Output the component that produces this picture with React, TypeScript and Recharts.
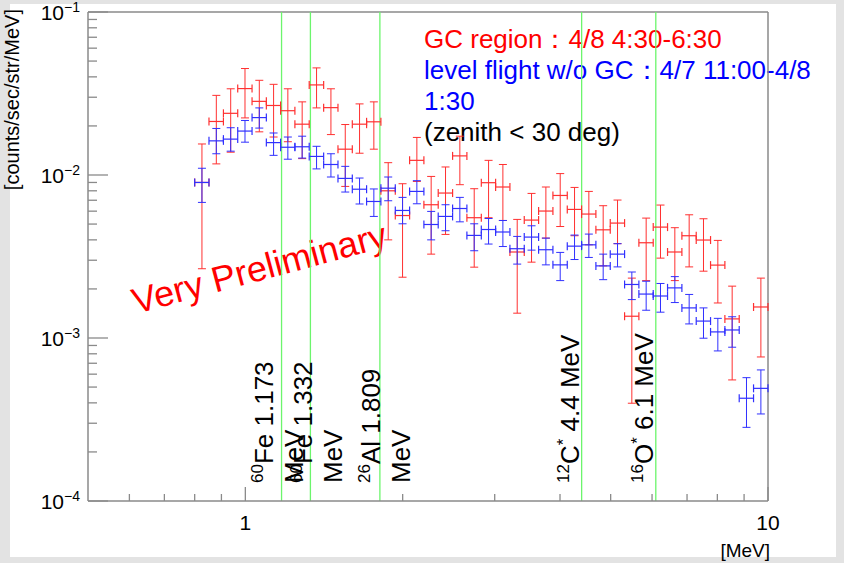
import React from "react";
import {
  ScatterChart,
  Scatter,
  XAxis,
  YAxis,
  ErrorBar,
  ReferenceLine,
} from "recharts";

// energy bin edges [MeV], 40 log bins
const BIN_EDGES = [
  0.8, 0.852, 0.908, 0.967, 1.03, 1.097, 1.168, 1.244, 1.325, 1.412, 1.504,
  1.602, 1.706, 1.817, 1.936, 2.062, 2.196, 2.339, 2.492, 2.654, 2.828, 3.012,
  3.208, 3.417, 3.64, 3.877, 4.13, 4.399, 4.685, 4.991, 5.316, 5.662, 6.031,
  6.424, 6.843, 7.289, 7.764, 8.27, 8.809, 9.383, 10,
];

// GC region (red)
const GC_RATE = [
  0.009, 0.0213, 0.0239, 0.0339, 0.0283, 0.0267, 0.0248, 0.0205, 0.0357,
  0.0259, 0.0144, 0.0205, 0.0212, 0.008, 0.00564, 0.0123, 0.00657, 0.00775,
  0.0131, 0.00547, 0.00897, 0.00844, 0.00337, 0.00529, 0.00601, 0.00749,
  0.00615, 0.00576, 0.00461, 0.00507, 0.00136, 0.00384, 0.00479, 0.00337,
  0.00424, 0.00399, 0.0028, 0.00131, null, 0.00155,
];
const GC_LOW = [
  0.00266, 0.0117, 0.0138, 0.0224, 0.0184, 0.0171, 0.016, 0.0126, 0.0258,
  0.0177, 0.00851, 0.0136, 0.0144, 0.004, 0.00236, 0.00913, 0.00327, 0.00432,
  0.00872, 0.00272, 0.00547, 0.00526, 0.00142, 0.00292, 0.0041, 0.00483,
  0.00424, 0.00373, 0.00277, 0.00379, 0.000398, 0.00225, 0.00309, 0.00225,
  0.00273, 0.00257, 0.00164, 0.000553, null, 0.000765,
];
const GC_HIGH = [
  0.0155, 0.0308, 0.0338, 0.045, 0.0381, 0.036, 0.0338, 0.0281, 0.0454,
  0.0338, 0.0204, 0.0273, 0.0281, 0.0119, 0.00884, 0.017, 0.0098, 0.0112,
  0.0173, 0.00824, 0.0123, 0.0116, 0.00534, 0.00771, 0.00844, 0.0102, 0.00839,
  0.00793, 0.00648, 0.00702, 0.00233, 0.00544, 0.00654, 0.00475, 0.0057,
  0.00539, 0.00397, 0.00208, null, 0.00233,
];

// level flight w/o GC (blue)
const BG_RATE = [
  0.009, 0.0162, 0.0166, 0.0186, 0.0225, 0.0158, 0.0148, 0.0149, 0.013,
  0.0116, 0.00953, 0.00818, 0.00688, 0.0083, 0.00606, 0.00793, 0.00497,
  0.00557, 0.00623, 0.00426, 0.00463, 0.00447, 0.00353, 0.00416, 0.00348,
  0.00281, 0.00366, 0.00373, 0.00277, 0.00327, 0.00213, 0.00186, 0.00181,
  0.00203, 0.00153, 0.00127, 0.00109, 0.00112, 0.000427, 0.000491,
];
const BG_LOW = [
  0.00679, 0.0135, 0.014, 0.0159, 0.0194, 0.0132, 0.0125, 0.0127, 0.0109,
  0.00972, 0.00786, 0.00664, 0.00557, 0.00695, 0.00502, 0.00666, 0.004,
  0.00455, 0.00516, 0.00343, 0.00377, 0.00364, 0.00284, 0.00346, 0.00281,
  0.00225, 0.00303, 0.00312, 0.00228, 0.00273, 0.00172, 0.00148, 0.00144,
  0.00165, 0.00122, 0.000997, 0.000833, 0.000878, 0.000283, 0.000342,
];
const BG_HIGH = [
  0.011, 0.0193, 0.0195, 0.0216, 0.0258, 0.0181, 0.0171, 0.0173, 0.015,
  0.0135, 0.0113, 0.00958, 0.00821, 0.00972, 0.00729, 0.00923, 0.00598,
  0.00657, 0.00729, 0.00502, 0.00541, 0.00526, 0.0042, 0.00488, 0.0041,
  0.00335, 0.00428, 0.00434, 0.00327, 0.00379, 0.00254, 0.00223, 0.00216,
  0.00238, 0.00185, 0.00153, 0.00132, 0.00135, 0.000571, 0.000637,
];

// gamma lines
const LINE_ENERGY = [1.173, 1.332, 1.809, 4.4, 6.1];
const LINE_MASS = ["60", "60", "26", "12", "16"];
const LINE_ELEMENT = ["Fe", "Fe", "Al", "C", "O"];
const LINE_STAR = [false, false, false, true, true];
const LINE_TEXT = ["1.173", "1.332", "1.809", "4.4 MeV", "6.1 MeV"];
const LINE_SECOND = ["MeV", "MeV", "MeV", "", ""];

const X_TICKS = [0.6, 0.7, 0.8, 0.9, 1, 2, 3, 4, 5, 6, 7, 8, 9, 10];
const X_MAJOR = [1, 10];
const Y_TICKS = [
  0.0001, 0.0002, 0.0003, 0.0004, 0.0005, 0.0006, 0.0007, 0.0008, 0.0009,
  0.001, 0.002, 0.003, 0.004, 0.005, 0.006, 0.007, 0.008, 0.009, 0.01, 0.02,
  0.03, 0.04, 0.05, 0.06, 0.07, 0.08, 0.09, 0.1,
];
const Y_MAJOR = [0.0001, 0.001, 0.01, 0.1];
const Y_MAJOR_EXP = ["−4", "−3", "−2", "−1"];

const TITLE_LINES = [
  "GC region：4/8 4:30-6:30",
  "level flight w/o GC：4/7 11:00-4/8",
  "1:30",
  "(zenith < 30 deg)",
];
const TITLE_COLORS = ["#ff0000", "#0000ff", "#0000ff", "#000000"];

const FONT = "'Liberation Sans', Arial, Helvetica, sans-serif";
const AXIS = "#8a8a8a";
const GREEN = "#6cf56c";
const LABEL_DX = [-9, 2, 0, -3, -3];

function buildSeries(rate: (number | null)[], low: (number | null)[], high: (number | null)[]) {
  const out: any[] = [];
  rate.forEach((r, i) => {
    if (r == null) return;
    const lo = BIN_EDGES[i];
    const hi = BIN_EDGES[i + 1];
    const e = (lo + hi) / 2;
    out.push({
      e,
      r,
      ex: [e - lo, hi - e],
      ey: [r - (low[i] as number), (high[i] as number) - r],
    });
  });
  return out;
}

const gcData = buildSeries(GC_RATE, GC_LOW, GC_HIGH);
const bgData = buildSeries(BG_RATE, BG_LOW, BG_HIGH);

const XTick = (props: any) => {
  const { x, y, payload } = props;
  const v = payload.value;
  const major = X_MAJOR.includes(v);
  return (
    <g>
      <line x1={x} x2={x} y1={y} y2={y - (major ? 14 : 7)} stroke={AXIS} strokeWidth={1.3} />
      {major && (
        <text x={x} y={y + 29} textAnchor="middle" fontSize={21} fontFamily={FONT} fill="#000">
          {v}
        </text>
      )}
    </g>
  );
};

const YTick = (props: any) => {
  const { x, y, payload } = props;
  const v = payload.value;
  const mi = Y_MAJOR.findIndex((m) => Math.abs(m - v) / m < 1e-6);
  const major = mi >= 0;
  return (
    <g>
      <line x1={x} x2={x + (major ? 20 : 9)} y1={y} y2={y} stroke={AXIS} strokeWidth={1.3} />
      {major && (
        <text x={x - 8} y={y + 8} textAnchor="end" fontSize={21} fontFamily={FONT} fill="#000">
          10
          <tspan dy={-8} fontSize={14}>
            {Y_MAJOR_EXP[mi]}
          </tspan>
        </text>
      )}
    </g>
  );
};

const LineTag = (props: any) => {
  const { viewBox, idx } = props;
  if (!viewBox) return null;
  const bx = viewBox.x + LABEL_DX[idx];
  const by = viewBox.y + viewBox.height - 18;
  return (
    <g transform={`translate(${bx}, ${by}) rotate(-90)`} fontFamily={FONT} fill="#000">
      <text x={0} y={0} fontSize={26}>
        <tspan fontSize={17} dy={-10}>
          {LINE_MASS[idx]}
        </tspan>
        <tspan dy={10}>{LINE_ELEMENT[idx]}</tspan>
        {LINE_STAR[idx] && (
          <tspan fontSize={17} dy={-10}>
            *
          </tspan>
        )}
        <tspan dy={LINE_STAR[idx] ? 10 : 0}>{" " + LINE_TEXT[idx]}</tspan>
      </text>
      {LINE_SECOND[idx] && (
        <text x={0} y={30} fontSize={26}>
          {LINE_SECOND[idx]}
        </text>
      )}
    </g>
  );
};

export default function App() {
  return (
    <div
      style={{
        position: "absolute",
        left: 0,
        top: 0,
        width: 844,
        height: 563,
        background: "#e3e3e3",
      }}
    >
      <svg width={844} height={563} style={{ position: "absolute", left: 0, top: 0 }}>
        <rect x={10} y={4} width={826} height={553} fill="#ffffff" />
        <text
          transform="translate(19, 9) rotate(-90)"
          textAnchor="end"
          fontSize={20}
          fontFamily={FONT}
          fill="#000"
        >
          [counts/sec/str/MeV]
        </text>
        <text x={770} y={557} textAnchor="end" fontSize={19} fontFamily={FONT} fill="#000">
          [MeV]
        </text>
        {TITLE_LINES.map((t, i) => (
          <text
            key={t}
            x={424}
            y={48 + i * 31}
            fontSize={26}
            fontFamily={FONT}
            fill={TITLE_COLORS[i]}
          >
            {t}
          </text>
        ))}
        <text
          transform="translate(136, 314) rotate(-15)"
          fontSize={36}
          fontFamily={FONT}
          fill="#ff0000"
        >
          Very Preliminary
        </text>
      </svg>
      <div style={{ position: "absolute", left: 0, top: 0 }}>
        <ScatterChart
          width={844}
          height={563}
          margin={{ top: 12, right: 76, bottom: 22, left: 0 }}
        >
          <XAxis
            type="number"
            dataKey="e"
            scale="log"
            domain={[0.5, 10]}
            allowDataOverflow
            ticks={X_TICKS}
            interval={0}
            tick={<XTick />}
            tickSize={0}
            tickMargin={0}
            tickLine={false}
            axisLine={{ stroke: AXIS, strokeWidth: 1.5 }}
            height={40}
          />
          <YAxis
            type="number"
            dataKey="r"
            scale="log"
            domain={[0.0001, 0.1]}
            allowDataOverflow
            ticks={Y_TICKS}
            interval={0}
            tick={<YTick />}
            tickSize={0}
            tickMargin={0}
            tickLine={false}
            axisLine={{ stroke: AXIS, strokeWidth: 1.5 }}
            width={88}
          />
          <ReferenceLine y={0.1} stroke={AXIS} strokeWidth={1.5} />
          <ReferenceLine x={10} stroke={AXIS} strokeWidth={1.5} />
          {LINE_ENERGY.map((en, i) => (
            <ReferenceLine
              key={en}
              x={en}
              stroke={GREEN}
              strokeWidth={1.3}
              label={<LineTag idx={i} />}
            />
          ))}
          <Scatter data={gcData} fill="#ff0000" shape={() => <g />} isAnimationActive={false}>
            <ErrorBar dataKey="ey" direction="y" width={4} stroke="#ff3030" strokeWidth={1} isAnimationActive={false} />
            <ErrorBar dataKey="ex" direction="x" width={4} stroke="#ff3030" strokeWidth={1.2} isAnimationActive={false} />
          </Scatter>
          <Scatter data={bgData} fill="#0000ff" shape={() => <g />} isAnimationActive={false}>
            <ErrorBar dataKey="ey" direction="y" width={4} stroke="#3030ff" strokeWidth={1} isAnimationActive={false} />
            <ErrorBar dataKey="ex" direction="x" width={4} stroke="#3030ff" strokeWidth={1.2} isAnimationActive={false} />
          </Scatter>
        </ScatterChart>
      </div>
    </div>
  );
}
